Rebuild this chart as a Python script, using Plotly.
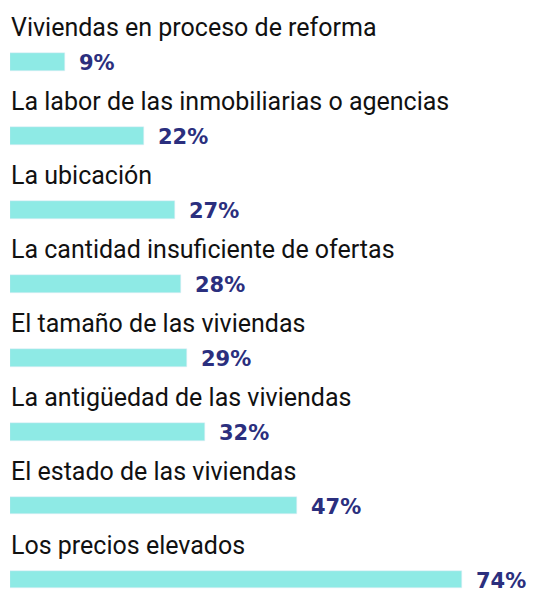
import plotly.graph_objects as go

categories = [
    "Viviendas en proceso de reforma",
    "La labor de las inmobiliarias o agencias",
    "La ubicación",
    "La cantidad insuficiente de ofertas",
    "El tamaño de las viviendas",
    "La antigüedad de las viviendas",
    "El estado de las viviendas",
    "Los precios elevados",
]
values = [9, 22, 27, 28, 29, 32, 47, 74]
value_labels = ["9%", "22%", "27%", "28%", "29%", "32%", "47%", "74%"]

bar_color = "#8eeae5"
navy = "#2b2f7e"

fig = go.Figure()
fig.add_trace(go.Bar(
    x=values,
    y=categories,
    orientation="h",
    marker_color=bar_color,
    width=0.24,
    hoverinfo="skip",
))

# category label above each bar
for cat in categories:
    fig.add_annotation(x=0, y=cat, text=cat, xanchor="left", yanchor="middle",
                       xshift=-1, yshift=34, showarrow=False,
                       font=dict(family="Roboto", size=25, color="#111111"))

# value label right of each bar
for cat, v, lab in zip(categories, values, value_labels):
    fig.add_annotation(x=v, y=cat, text=f"<b>{lab}</b>", xanchor="left", yanchor="middle",
                       xshift=12, yshift=-1, showarrow=False,
                       font=dict(family="DejaVu Sans", size=21, color=navy))

fig.update_xaxes(range=[0, 88], visible=False, fixedrange=True)
fig.update_yaxes(type="category", categoryorder="array", categoryarray=categories,
                 range=[7.142, -0.730], visible=False, fixedrange=True)

# page body adds an 8px offset, so the figure is 8px smaller than the window
fig.update_layout(
    width=539, height=582,
    margin=dict(l=2, r=0, t=0, b=0),
    plot_bgcolor="white", paper_bgcolor="white",
    showlegend=False,
    bargap=0,
)

fig.write_html("out.html", config={"displayModeBar": False})
